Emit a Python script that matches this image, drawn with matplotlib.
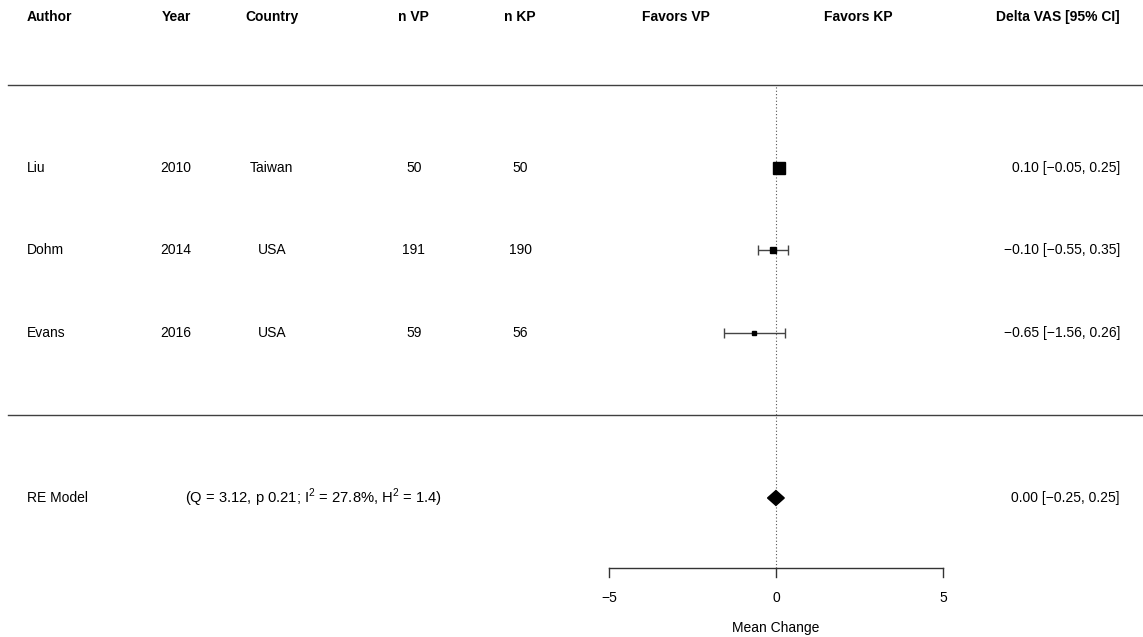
"""Forest plot: VAS change, VP vs KP (random-effects model)"""
import numpy as np
import matplotlib.pyplot as plt

plt.rcParams['font.family'] = ['Liberation Sans', 'DejaVu Sans']
plt.rcParams['mathtext.fontset'] = 'custom'
plt.rcParams['mathtext.rm'] = 'Liberation Sans'

# study data
authors = ["Liu", "Dohm", "Evans"]
years = [2010, 2014, 2016]
countries = ["Taiwan", "USA", "USA"]
n_vp = [50, 191, 59]
n_kp = [50, 190, 56]
est = np.array([0.10, -0.10, -0.65])
ci_lo = np.array([-0.05, -0.55, -1.56])
ci_hi = np.array([0.25, 0.35, 0.26])
marker_sizes = [9, 4.5, 2.4]   # proportional to study weight

# pooled estimate
re_est, re_lo, re_hi = 0.00, -0.25, 0.25
re_stats = r"(Q = 3.12, p 0.21; I$^{2}$ = 27.8%, H$^{2}$ = 1.4)"

headers = ["Author", "Year", "Country", "n VP", "n KP", "Favors VP", "Favors KP", "Delta VAS [95% CI]"]
xticks = [-5, 0, 5]

fig = plt.figure(figsize=(11.43, 6.37), dpi=100)
ax = fig.add_axes([0, 0, 1, 1])
ax.set_xlim(-23.23, 10.99)
ax.set_ylim(-0.685, 7.036)
ax.axis('off')

rows = np.array([5, 4, 3])
re_row = 1
head_y = 6.83
fs = 10

# column positions (x in effect-size units)
col_author = -22.43
col_year = -17.96
col_country = -15.09
col_nvp = -10.84
col_nkp = -7.66
col_fvp = -2.99
col_fkp = 2.46
col_right = 10.30

# header
hx = [col_author, col_year, col_country, col_nvp, col_nkp, col_fvp, col_fkp, col_right]
ha = ['left', 'center', 'center', 'center', 'center', 'center', 'center', 'right']
for h, x, a in zip(headers, hx, ha):
    ax.text(x, head_y, h, ha=a, va='center', fontsize=fs, fontweight='bold')

# separating lines
line_kw = dict(color='#404040', linewidth=1)
ax.plot([-23.0, 10.99], [6.0, 6.0], **line_kw)
ax.plot([-23.0, 10.99], [2.0, 2.0], **line_kw)

# reference line
axis_y = 0.15
ax.plot([0, 0], [axis_y, 6.0], color='#555555', linestyle=(0, (1, 2)), linewidth=0.8)

# studies
for i, y in enumerate(rows):
    ax.text(col_author, y, authors[i], ha='left', va='center', fontsize=fs)
    ax.text(col_year, y, str(years[i]), ha='center', va='center', fontsize=fs)
    ax.text(col_country, y, countries[i], ha='center', va='center', fontsize=fs)
    ax.text(col_nvp, y, str(n_vp[i]), ha='center', va='center', fontsize=fs)
    ax.text(col_nkp, y, str(n_kp[i]), ha='center', va='center', fontsize=fs)
    ax.errorbar(est[i], y, xerr=[[est[i] - ci_lo[i]], [ci_hi[i] - est[i]]],
                fmt='none', ecolor='#444444', elinewidth=1, capsize=3.5, capthick=1)
    ax.plot(est[i], y, 's', color='black', markersize=marker_sizes[i])
    txt = f"{est[i]:.2f} [{ci_lo[i]:.2f}, {ci_hi[i]:.2f}]".replace('-', '\u2212')
    ax.text(col_right, y, txt, ha='right', va='center', fontsize=fs)

# RE model
ax.text(col_author, re_row, "RE Model", ha='left', va='center', fontsize=fs)
ax.text(-17.69, re_row, re_stats, ha='left', va='center', fontsize=10.6)
dh = 0.09
ax.fill([re_lo, re_est, re_hi, re_est], [re_row, re_row + dh, re_row, re_row - dh],
        color='black', zorder=3)
re_txt = f"{re_est:.2f} [{re_lo:.2f}, {re_hi:.2f}]".replace('-', '\u2212')
ax.text(col_right, re_row, re_txt, ha='right', va='center', fontsize=fs)

# x axis
ax.plot([xticks[0], xticks[-1]], [axis_y, axis_y], color='#333333', linewidth=1)
for t in xticks:
    ax.plot([t, t], [axis_y, axis_y - 0.11], color='#333333', linewidth=1)
    ax.text(t, axis_y - 0.36, str(t).replace('-', '\u2212'), ha='center', va='center', fontsize=fs)
ax.text(0, axis_y - 0.72, "Mean Change", ha='center', va='center', fontsize=fs)

plt.savefig("out.png", dpi=100)
